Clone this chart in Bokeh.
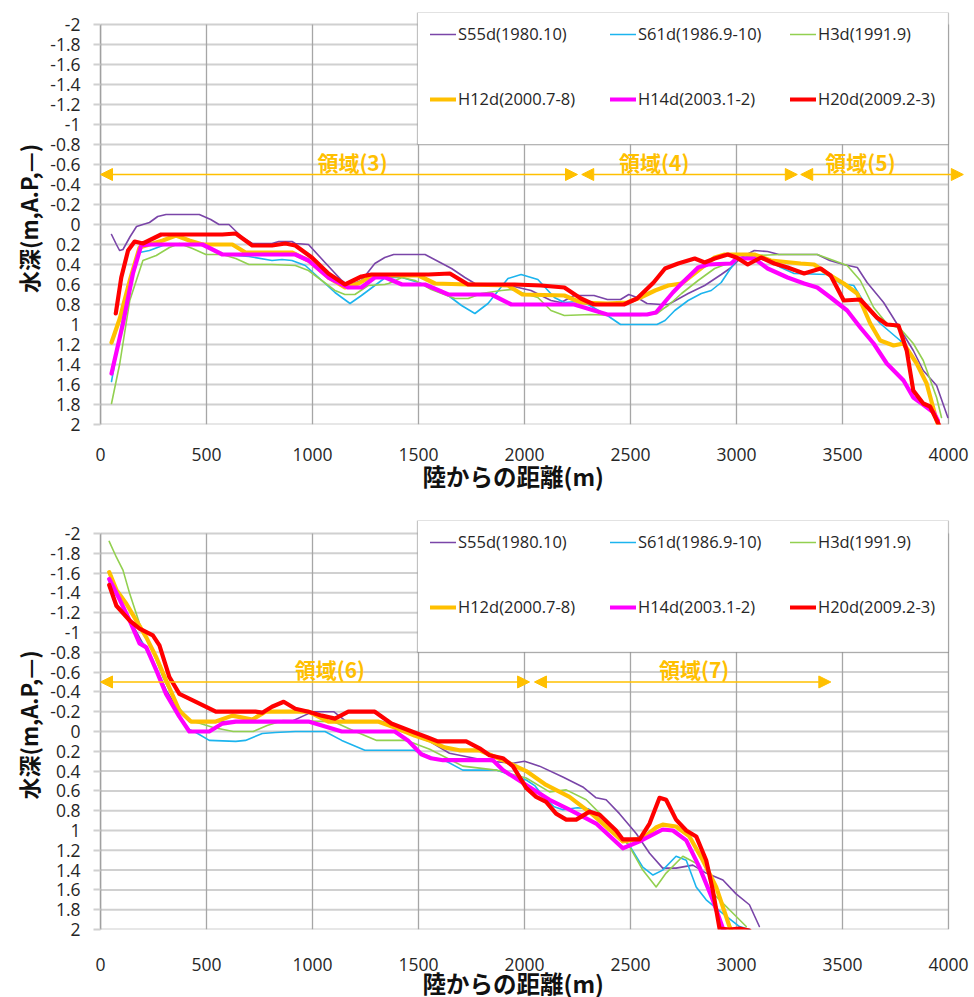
from bokeh.plotting import figure
from bokeh.models import (Range1d, FixedTicker, CustomJSTickFormatter, Legend, LegendItem,
                          BoxAnnotation, Arrow, NormalHead, Label, Title)
from bokeh.layouts import column
from bokeh.embed import file_html
from bokeh.resources import INLINE

SERIES = ["S55d(1980.10)", "S61d(1986.9-10)", "H3d(1991.9)",
          "H12d(2000.7-8)", "H14d(2003.1-2)", "H20d(2009.2-3)"]
COLORS = ["#7A45A8", "#1CB4EE", "#92D050", "#FFC000", "#FF00FF", "#FF0000"]
WIDTHS = [1.6, 1.6, 1.6, 4.2, 4.2, 4.2]

X_TICKS = [0, 500, 1000, 1500, 2000, 2500, 3000, 3500, 4000]
Y_TICKS = [-2.0, -1.8, -1.6, -1.4, -1.2, -1.0, -0.8, -0.6, -0.4, -0.2, 0.0,
           0.2, 0.4, 0.6, 0.8, 1.0, 1.2, 1.4, 1.6, 1.8, 2.0]
X_LABEL = "陸からの距離(m)"
Y_LABEL = "水深(m,A.P,—)"

# ---------------- upper chart (領域 3-5) ----------------
top_s55_x = [52, 75, 90, 106, 140, 170, 200, 231, 270, 309, 466, 520, 559, 606, 669, 716, 809, 841, 903, 919, 981, 1059, 1138, 1169, 1231, 1294, 1341, 1383, 1531, 1656, 1719, 1766, 1850, 1950, 2031, 2125, 2172, 2234, 2328, 2391, 2453, 2492, 2531, 2578, 2641, 2678, 2772, 2850, 2928, 2975, 3022, 3084, 3147, 3200, 3300, 3381, 3440, 3505, 3570, 3616, 3694, 3756, 3834, 3881, 3944, 3997]
top_s55_y = [0.10, 0.20, 0.26, 0.25, 0.12, 0.02, 0.00, -0.02, -0.08, -0.10, -0.10, -0.05, 0.00, 0.00, 0.13, 0.19, 0.19, 0.17, 0.17, 0.19, 0.20, 0.38, 0.56, 0.61, 0.56, 0.39, 0.33, 0.30, 0.30, 0.44, 0.53, 0.59, 0.61, 0.62, 0.66, 0.76, 0.78, 0.71, 0.71, 0.75, 0.75, 0.70, 0.73, 0.79, 0.80, 0.80, 0.69, 0.61, 0.50, 0.43, 0.33, 0.26, 0.27, 0.30, 0.30, 0.30, 0.36, 0.40, 0.43, 0.58, 0.78, 0.99, 1.26, 1.46, 1.61, 1.93]

top_s61_x = [52, 91, 130, 184, 231, 294, 340, 481, 575, 700, 809, 856, 903, 966, 1044, 1106, 1177, 1231, 1294, 1344, 1422, 1500, 1609, 1703, 1766, 1828, 1922, 1984, 2063, 2141, 2188, 2250, 2300, 2391, 2453, 2625, 2663, 2709, 2772, 2834, 2881, 2928, 2975, 3000, 3050, 3150, 3209, 3272, 3428, 3491, 3553, 3616, 3678, 3772, 3834, 3897, 3936]
top_s61_y = [1.57, 1.10, 0.66, 0.28, 0.26, 0.21, 0.20, 0.20, 0.30, 0.32, 0.36, 0.35, 0.36, 0.41, 0.56, 0.68, 0.79, 0.71, 0.61, 0.53, 0.53, 0.58, 0.66, 0.81, 0.89, 0.79, 0.54, 0.50, 0.55, 0.73, 0.78, 0.77, 0.80, 0.91, 1.00, 1.00, 0.96, 0.86, 0.76, 0.69, 0.66, 0.58, 0.43, 0.36, 0.32, 0.36, 0.43, 0.49, 0.50, 0.59, 0.61, 0.83, 0.99, 1.16, 1.33, 1.59, 1.93]

top_h3_x = [52, 91, 138, 200, 263, 325, 372, 434, 497, 575, 638, 700, 809, 919, 981, 1044, 1106, 1153, 1200, 1263, 1341, 1359, 1422, 1484, 1560, 1672, 1734, 1797, 1891, 1938, 2063, 2125, 2188, 2313, 2422, 2547, 2625, 2656, 2678, 2741, 2819, 2897, 2959, 3000, 3084, 3209, 3381, 3459, 3522, 3584, 3647, 3709, 3772, 3834, 3881, 3944, 3967]
top_h3_y = [1.79, 1.39, 0.76, 0.36, 0.31, 0.23, 0.19, 0.24, 0.30, 0.30, 0.34, 0.40, 0.40, 0.41, 0.46, 0.56, 0.66, 0.70, 0.70, 0.61, 0.60, 0.59, 0.53, 0.56, 0.65, 0.74, 0.74, 0.69, 0.66, 0.65, 0.73, 0.86, 0.91, 0.90, 0.91, 0.91, 0.89, 0.84, 0.81, 0.69, 0.56, 0.44, 0.39, 0.36, 0.31, 0.30, 0.30, 0.36, 0.41, 0.56, 0.83, 0.99, 1.04, 1.19, 1.36, 1.73, 1.93]

top_h12_x = [52, 91, 138, 184, 231, 294, 356, 419, 481, 622, 684, 809, 903, 981, 1075, 1153, 1216, 1278, 1341, 1500, 1578, 1734, 1922, 1990, 2188, 2266, 2391, 2484, 2547, 2616, 2678, 2741, 2819, 2897, 2944, 3084, 3162, 3303, 3366, 3428, 3506, 3569, 3631, 3678, 3741, 3788, 3850, 3897, 3944, 3960]
top_h12_y = [1.18, 0.94, 0.56, 0.23, 0.20, 0.16, 0.11, 0.16, 0.20, 0.20, 0.28, 0.28, 0.28, 0.36, 0.53, 0.63, 0.59, 0.52, 0.51, 0.51, 0.59, 0.60, 0.61, 0.70, 0.71, 0.78, 0.79, 0.78, 0.73, 0.66, 0.61, 0.59, 0.46, 0.33, 0.30, 0.30, 0.36, 0.39, 0.40, 0.49, 0.59, 0.69, 0.99, 1.16, 1.21, 1.19, 1.39, 1.59, 1.96, 2.05]

top_h14_x = [52, 106, 153, 192, 231, 481, 575, 919, 981, 1075, 1169, 1231, 1294, 1344, 1422, 1531, 1641, 1844, 1938, 2234, 2391, 2578, 2620, 2660, 2700, 2741, 2819, 2866, 2975, 3000, 3084, 3147, 3241, 3319, 3381, 3444, 3522, 3584, 3647, 3709, 3788, 3834, 3880, 3930, 3950]
top_h14_y = [1.49, 0.99, 0.49, 0.21, 0.20, 0.20, 0.30, 0.30, 0.36, 0.53, 0.63, 0.63, 0.53, 0.53, 0.60, 0.60, 0.70, 0.70, 0.80, 0.80, 0.90, 0.90, 0.88, 0.78, 0.68, 0.59, 0.43, 0.40, 0.39, 0.34, 0.34, 0.44, 0.53, 0.59, 0.63, 0.73, 0.86, 1.03, 1.19, 1.39, 1.56, 1.73, 1.80, 1.88, 1.96]

top_h20_x = [72, 98, 130, 161, 200, 286, 450, 575, 638, 716, 809, 872, 919, 997, 1075, 1153, 1231, 1278, 1341, 1547, 1648, 1734, 1953, 2078, 2188, 2266, 2328, 2469, 2531, 2609, 2663, 2725, 2803, 2850, 2897, 2959, 3000, 3053, 3116, 3178, 3241, 3319, 3397, 3444, 3506, 3584, 3662, 3709, 3764, 3803, 3834, 3881, 3913, 3952, 3965]
top_h20_y = [0.89, 0.53, 0.26, 0.17, 0.19, 0.10, 0.10, 0.10, 0.09, 0.21, 0.21, 0.19, 0.21, 0.33, 0.49, 0.60, 0.52, 0.50, 0.50, 0.50, 0.49, 0.60, 0.60, 0.61, 0.63, 0.74, 0.80, 0.80, 0.74, 0.58, 0.44, 0.39, 0.34, 0.38, 0.34, 0.30, 0.33, 0.40, 0.33, 0.39, 0.43, 0.49, 0.44, 0.51, 0.76, 0.75, 0.93, 1.00, 1.01, 1.26, 1.66, 1.79, 1.82, 1.99, 2.05]

# ---------------- lower chart (領域 6-7) ----------------
bot_s55_x = [41, 91, 138, 184, 263, 309, 372, 419, 600, 900, 960, 1000, 1100, 1160, 1330, 1450, 1552, 1646, 1835, 1945, 2000, 2071, 2181, 2275, 2338, 2385, 2448, 2527, 2590, 2652, 2715, 2794, 2857, 2936, 2998, 3061, 3108]
bot_s55_y = [-1.52, -1.33, -1.13, -0.95, -0.64, -0.42, -0.20, -0.10, -0.10, -0.10, -0.16, -0.20, -0.20, -0.10, -0.10, 0.02, 0.10, 0.22, 0.30, 0.32, 0.30, 0.35, 0.46, 0.56, 0.67, 0.69, 0.83, 1.03, 1.23, 1.38, 1.38, 1.35, 1.43, 1.50, 1.64, 1.75, 1.97]

bot_s61_x = [41, 91, 138, 184, 216, 263, 309, 372, 419, 450, 513, 638, 684, 763, 825, 919, 1059, 1138, 1247, 1481, 1559, 1622, 1709, 1866, 2008, 2050, 2090, 2140, 2181, 2250, 2300, 2370, 2495, 2558, 2606, 2652, 2715, 2763, 2810, 2857, 2936, 3014, 3061]
bot_s61_y = [-1.50, -1.32, -1.12, -0.92, -0.86, -0.62, -0.38, -0.15, -0.02, 0.01, 0.09, 0.10, 0.09, 0.02, 0.01, 0.00, 0.00, 0.09, 0.19, 0.19, 0.26, 0.29, 0.39, 0.39, 0.49, 0.55, 0.66, 0.76, 0.79, 0.77, 0.78, 0.88, 1.15, 1.37, 1.45, 1.40, 1.26, 1.30, 1.57, 1.70, 1.84, 1.97, 2.00]

bot_h3_x = [41, 75, 106, 138, 184, 247, 294, 356, 419, 471, 532, 626, 720, 786, 861, 1098, 1191, 1303, 1444, 1553, 1709, 1866, 2008, 2118, 2197, 2291, 2385, 2495, 2558, 2621, 2668, 2747, 2810, 2873, 2967, 3046]
bot_h3_y = [-1.92, -1.76, -1.63, -1.39, -1.09, -0.80, -0.55, -0.28, -0.11, -0.08, -0.04, 0.00, 0.00, -0.06, -0.11, -0.10, -0.01, 0.09, 0.09, 0.18, 0.35, 0.39, 0.47, 0.61, 0.59, 0.69, 0.89, 1.16, 1.40, 1.57, 1.43, 1.26, 1.33, 1.60, 1.80, 1.97]

bot_h12_x = [41, 75, 122, 169, 216, 263, 309, 372, 427, 544, 622, 716, 778, 981, 1075, 1309, 1388, 1481, 1552, 1622, 1693, 1788, 1898, 2008, 2102, 2212, 2322, 2464, 2558, 2620, 2652, 2715, 2778, 2841, 2904, 2967, 2985]
bot_h12_y = [-1.61, -1.43, -1.29, -1.12, -0.95, -0.75, -0.52, -0.21, -0.10, -0.10, -0.16, -0.12, -0.20, -0.20, -0.10, -0.10, -0.04, 0.04, 0.09, 0.16, 0.19, 0.19, 0.29, 0.40, 0.54, 0.66, 0.84, 1.11, 1.08, 0.97, 0.94, 0.96, 1.06, 1.30, 1.57, 1.97, 2.05]

bot_h14_x = [41, 91, 138, 184, 216, 263, 309, 372, 419, 513, 575, 638, 981, 1060, 1138, 1388, 1450, 1513, 1559, 1615, 1851, 1898, 2008, 2118, 2212, 2338, 2464, 2543, 2652, 2700, 2763, 2825, 2888, 2936, 2960]
bot_h14_y = [-1.54, -1.33, -1.12, -0.89, -0.85, -0.62, -0.38, -0.15, 0.00, 0.00, -0.08, -0.10, -0.10, -0.05, 0.00, 0.00, 0.09, 0.23, 0.27, 0.29, 0.29, 0.39, 0.54, 0.69, 0.79, 0.93, 1.18, 1.11, 0.99, 1.00, 1.10, 1.37, 1.70, 1.99, 2.05]

bot_h20_x = [41, 75, 138, 184, 247, 278, 325, 372, 450, 544, 731, 763, 809, 864, 919, 981, 1044, 1106, 1169, 1294, 1372, 1481, 1544, 1591, 1725, 1788, 1835, 1898, 1945, 2008, 2055, 2102, 2149, 2197, 2244, 2307, 2354, 2432, 2464, 2543, 2590, 2637, 2668, 2715, 2763, 2810, 2857, 2888, 2920, 2967, 3014, 3061]
bot_h20_y = [-1.48, -1.27, -1.12, -1.04, -0.97, -0.87, -0.55, -0.38, -0.30, -0.20, -0.20, -0.19, -0.25, -0.30, -0.23, -0.20, -0.16, -0.13, -0.20, -0.20, -0.08, 0.01, 0.06, 0.10, 0.10, 0.17, 0.24, 0.27, 0.35, 0.57, 0.66, 0.71, 0.83, 0.89, 0.89, 0.81, 0.84, 1.00, 1.09, 1.09, 0.93, 0.67, 0.69, 0.89, 1.00, 1.06, 1.30, 1.60, 1.99, 2.00, 1.99, 2.01]

# region annotations: names, arrow spans and label x positions
top_regions = ["領域(3)", "領域(4)", "領域(5)"]
top_region_start = [0, 2270, 3303]
top_region_end = [2250, 3287, 4070]
top_region_label_x = [1189, 2612, 3585]

bot_regions = ["領域(6)", "領域(7)"]
bot_region_start = [0, 2047]
bot_region_end = [2024, 3445]
bot_region_label_x = [1082, 2800]

REGION_Y = -0.5
REGION_LABEL_Y = -0.63
GOLD = "#FFC000"


def make_chart(xs, ys, regions, r_start, r_end, r_label_x, height, y_top, top, bottom,
               row_bottoms, tick_standoff, title_standoff):
    p = figure(width=974, height=height, x_range=Range1d(0, 4085), y_range=Range1d(2, y_top),
               output_backend="svg", toolbar_location=None,
               min_border_left=100, min_border_right=8, min_border_top=top,
               min_border_bottom=bottom)
    p.outline_line_color = None
    p.background_fill_color = "white"
    p.xgrid.visible = False
    p.ygrid.visible = False

    # grid lines limited to the 0-4000 / -2..2 box
    p.segment(x0=[0] * len(Y_TICKS), x1=[X_TICKS[-1]] * len(Y_TICKS), y0=Y_TICKS, y1=Y_TICKS,
              line_color="#d0d0d0", line_width=2)
    p.segment(x0=X_TICKS, x1=X_TICKS, y0=[Y_TICKS[0]] * len(X_TICKS),
              y1=[Y_TICKS[-1]] * len(X_TICKS), line_color="#a6a6a6", line_width=1.3)

    p.xaxis.ticker = FixedTicker(ticks=X_TICKS)
    p.yaxis.ticker = FixedTicker(ticks=Y_TICKS)
    p.yaxis.formatter = CustomJSTickFormatter(code="return (Math.round(tick*10)/10).toString();")

    for ax in (p.xaxis[0], p.yaxis[0]):
        ax.major_label_text_font = "Open Sans"
        ax.major_label_text_font_size = "17.5px"
        ax.major_label_text_color = "#262626"
        ax.axis_label_text_font = "Noto Sans CJK JP"
        ax.axis_label_text_font_style = "bold"
        ax.axis_label_text_font_size = "22px"
        ax.axis_label_text_color = "#111111"
        ax.minor_tick_line_color = None

    p.xaxis.axis_line_color = None
    p.xaxis.major_tick_line_color = None
    p.xaxis.major_tick_out = 0
    p.xaxis.major_tick_in = 0
    p.xaxis.major_label_standoff = tick_standoff

    # x-axis title, placed below the tick labels (left-aligned with an offset as in the original)
    p.add_layout(Title(text=X_LABEL, align="left", offset=322, standoff=title_standoff,
                       vertical_align="top",
                       text_font="Noto Sans CJK JP", text_font_style="bold",
                       text_font_size="23.5px", text_color="#111111"), "below")

    p.yaxis.bounds = (Y_TICKS[0], Y_TICKS[-1])
    p.yaxis.axis_line_color = "#a0a0a0"
    p.yaxis.axis_line_width = 1.5
    p.yaxis.major_tick_out = 7
    p.yaxis.major_tick_in = 0
    p.yaxis.major_tick_line_color = "#d0d0d0"
    p.yaxis.major_tick_line_width = 2
    p.yaxis.major_label_standoff = 13
    p.yaxis.axis_label = Y_LABEL
    p.yaxis.axis_label_standoff = 3

    renderers = []
    for i in range(6):
        r = p.line(xs[i], ys[i], line_color=COLORS[i], line_width=WIDTHS[i],
                   line_join="round", line_cap="round")
        renderers.append(r)

    # region arrows and labels
    for name, s, e, lx in zip(regions, r_start, r_end, r_label_x):
        p.add_layout(Arrow(start=NormalHead(size=12, fill_color=GOLD, line_color=GOLD),
                           end=NormalHead(size=12, fill_color=GOLD, line_color=GOLD),
                           x_start=s, y_start=REGION_Y, x_end=e, y_end=REGION_Y,
                           line_color=GOLD, line_width=1.6))
        p.add_layout(Label(x=lx, y=REGION_LABEL_Y, text=name, text_align="center",
                           text_baseline="middle",
                           text_color=GOLD, text_font="Noto Sans CJK JP",
                           text_font_style="bold", text_font_size="21px"))

    # legend box
    p.add_layout(BoxAnnotation(left=1495, right=4000, top=y_top, bottom=-0.8,
                               fill_color="white", fill_alpha=1.0,
                               line_color="#404040", line_width=1.2))
    for row in range(2):
        items = [LegendItem(label=SERIES[j], renderers=[renderers[j]])
                 for j in range(row * 3, row * 3 + 3)]
        leg = Legend(items=items, orientation="horizontal", location=(330, row_bottoms[row]),
                     padding=0, margin=0, spacing=0, glyph_width=26, glyph_height=20,
                     label_height=20, label_width=152, label_standoff=2,
                     background_fill_alpha=0, border_line_alpha=0,
                     label_text_font="Open Sans", label_text_font_size="16.5px",
                     label_text_color="#262626")
        p.add_layout(leg, "center")
    return p


top_xs = [top_s55_x, top_s61_x, top_h3_x, top_h12_x, top_h14_x, top_h20_x]
top_ys = [top_s55_y, top_s61_y, top_h3_y, top_h12_y, top_h14_y, top_h20_y]
bot_xs = [bot_s55_x, bot_s61_x, bot_h3_x, bot_h12_x, bot_h14_x, bot_h20_x]
bot_ys = [bot_s55_y, bot_s61_y, bot_h3_y, bot_h12_y, bot_h14_y, bot_h20_y]

p1 = make_chart(top_xs, top_ys, top_regions, top_region_start, top_region_end,
                top_region_label_x, 505, -2.12, 12, 81, (379, 314), 23, -10)
p2 = make_chart(bot_xs, bot_ys, bot_regions, bot_region_start, bot_region_end,
                bot_region_label_x, 492, -2.131, 15, 68, (376, 311), 28, -16)

layout = column(p1, p2, spacing=0)
open("out.html", "w").write(file_html(layout, INLINE))
